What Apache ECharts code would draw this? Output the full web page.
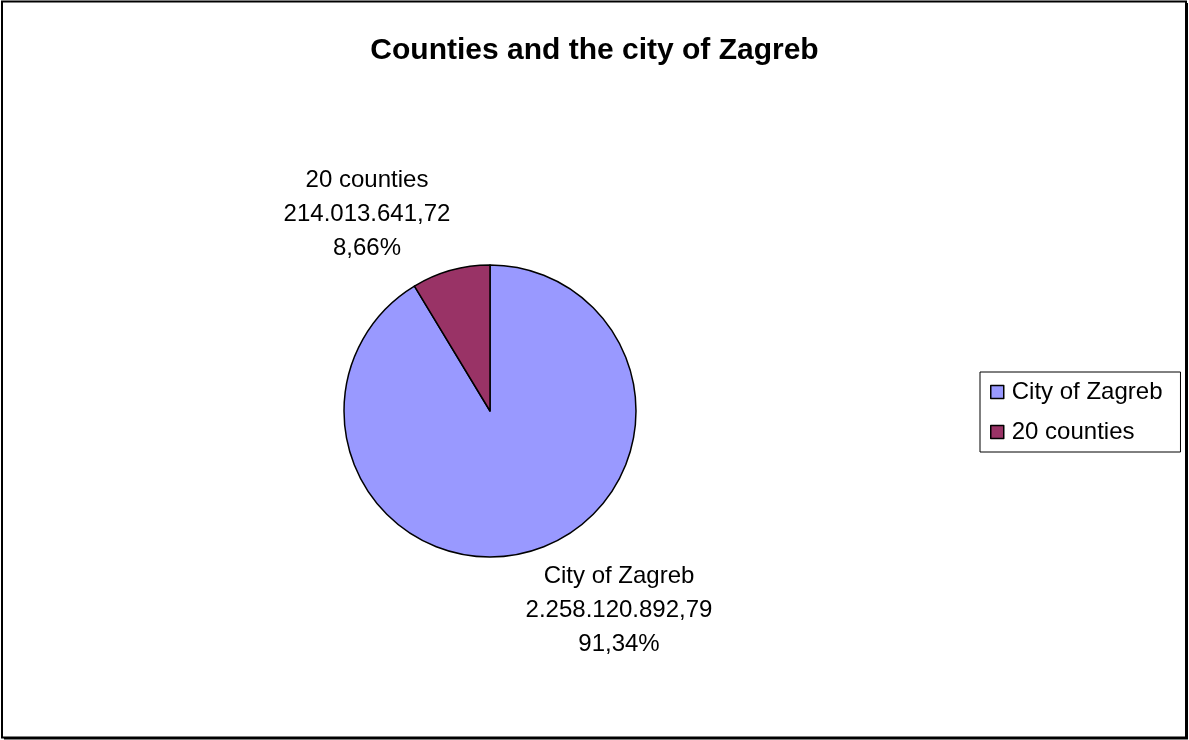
<!DOCTYPE html>
<html>
<head>
<meta charset="utf-8">
<script src="https://cdn.jsdelivr.net/npm/echarts@6/dist/echarts.min.js"></script>
<style>
  html, body { margin: 0; padding: 0; background: #fff; }
  #chart { width: 1189px; height: 740px; }
</style>
</head>
<body>
<div id="chart"></div>
<script>
const categories = ['City of Zagreb', '20 counties'];
const amounts = [2258120892.79, 214013641.72];
const sliceColors = ['#9999FF', '#993366'];

// label block centres (layout only)
const labelPos = [[619, 610], [367, 214]];

const FONT = '"Liberation Sans", Arial, sans-serif';

const fmtNum = v => {
  const parts = v.toFixed(2).split('.');
  return parts[0].replace(/\B(?=(\d{3})+(?!\d))/g, '.') + ',' + parts[1];
};

const chart = echarts.init(document.getElementById('chart'));

chart.setOption({
  backgroundColor: '#fff',
  animation: false,
  title: {
    text: 'Counties and the city of Zagreb',
    left: 'center',
    top: 31,
    textStyle: { fontFamily: FONT, fontSize: 30, fontWeight: 'bold', color: '#000' }
  },
  legend: {
    orient: 'vertical',
    left: 980,
    top: 372,
    padding: [8, 18, 8, 10],
    itemGap: 16,
    itemWidth: 13,
    itemHeight: 13,
    icon: 'rect',
    borderColor: '#000',
    borderWidth: 1,
    itemStyle: { borderColor: '#000', borderWidth: 1.5 },
    textStyle: { fontFamily: FONT, fontSize: 24, color: '#000', padding: [0, 0, 0, 3] },
    data: categories
  },
  graphic: [
    {
      type: 'rect',
      shape: { x: 2, y: 1.5, width: 1184, height: 736 },
      style: { fill: null, stroke: '#000', lineWidth: 2 },
      silent: true
    },
    {
      type: 'polyline',
      shape: { points: [[1187, 3], [1187, 738.5], [4, 738.5]] },
      style: { fill: null, stroke: '#000', lineWidth: 2 },
      silent: true
    }
  ],
  series: [{
    type: 'pie',
    center: [490, 411],
    radius: 146,
    startAngle: 90,
    clockwise: true,
    avoidLabelOverlap: false,
    itemStyle: { borderColor: '#000', borderWidth: 1.5 },
    label: {
      show: true,
      fontFamily: FONT,
      fontSize: 24,
      lineHeight: 34,
      color: '#000',
      formatter: p => p.name + '\n' + fmtNum(p.value) + '\n' + p.percent.toFixed(2).replace('.', ',') + '%'
    },
    labelLine: { show: false },
    labelLayout: params => {
      const pos = labelPos[params.dataIndex];
      return { x: pos[0], y: pos[1], align: 'center', verticalAlign: 'middle' };
    },
    data: categories.map((name, i) => ({
      name: name,
      value: amounts[i],
      itemStyle: { color: sliceColors[i] }
    }))
  }]
});
</script>
</body>
</html>
